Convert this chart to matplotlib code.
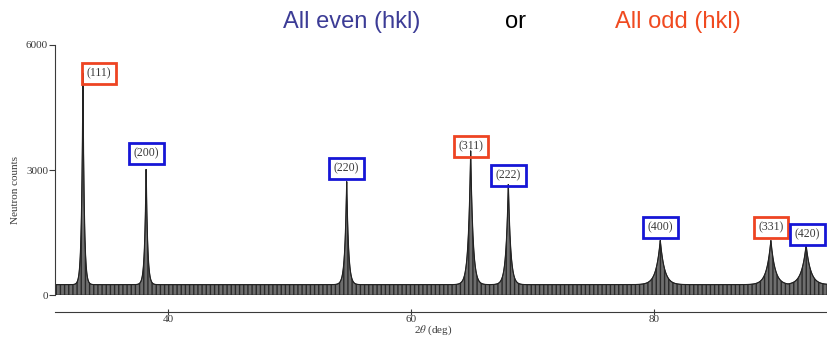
import numpy as np
import matplotlib
matplotlib.use("Agg")
import matplotlib.pyplot as plt


# -----------------------------
# Data
# -----------------------------
hkl_labels = ["(111)", "(200)", "(220)", "(311)", "(222)", "(400)", "(331)", "(420)"]

peak_two_theta = [33.0, 38.2, 54.7, 64.9, 68.0, 80.5, 89.6, 92.5]

peak_counts = [5350, 3120, 2760, 3480, 2690, 1320, 1320, 1200]

peak_width = [0.11, 0.12, 0.15, 0.19, 0.19, 0.34, 0.34, 0.37]

all_odd = [True, False, False, True, False, False, True, False]

background_counts = 250


# -----------------------------
# Style
# -----------------------------
red_box = "#ee4422"
blue_box = "#1616d6"
ink = "#3a3a3a"

# label offsets in points (dx, dy) from the peak top
label_offsets = [(11.5, -5.4), (0, 4), (0, 4), (0, -1.8), (0, 1.1), (0, 4.7), (0, 4.7), (0.7, 3.2)]

serif = ["Liberation Serif", "DejaVu Serif"]

plt.rcParams["mathtext.fontset"] = "stix"


# -----------------------------
# Profile
# -----------------------------
two_theta = np.linspace(30.7, 94.3, 6000)

counts = np.full_like(two_theta, background_counts, dtype=float)

for x0, h, w in zip(peak_two_theta, peak_counts, peak_width):
    counts = np.maximum(
        counts,
        background_counts + (h - background_counts) * np.exp(-np.abs(two_theta - x0) / w)
    )


# -----------------------------
# Plot
# -----------------------------
fig = plt.figure(figsize=(8.28, 3.38), dpi=100)

ax = fig.add_axes([0.0664, 0.127, 0.9336, 0.740])

ax.fill_between(
    two_theta, 0, counts,
    facecolor="#6e6e6e",
    edgecolor="#2a2a2a",
    hatch="||||",
    linewidth=0.6
)

ax.plot(two_theta, counts, color="#222222", linewidth=0.8)

for i, label in enumerate(hkl_labels):
    box_color = red_box if all_odd[i] else blue_box
    ax.annotate(
        label,
        xy=(peak_two_theta[i], peak_counts[i]),
        xytext=label_offsets[i],
        textcoords="offset points",
        ha="center",
        va="bottom",
        fontsize=8.5,
        family=serif,
        color=ink,
        bbox=dict(boxstyle="square,pad=0.4", facecolor="none",
                  edgecolor=box_color, linewidth=2.0)
    )

ax.set_xlim(30.7, 94.3)
ax.set_ylim(0, 6000)

ax.set_xticks([40, 60, 80])
ax.set_yticks([0, 3000, 6000])

ax.spines["top"].set_visible(False)
ax.spines["right"].set_visible(False)
ax.spines["bottom"].set_position(("outward", 12))
ax.spines["left"].set_color(ink)
ax.spines["bottom"].set_color(ink)
ax.spines["left"].set_linewidth(0.8)
ax.spines["bottom"].set_linewidth(0.8)

ax.tick_params(axis="y", direction="out", length=4, width=0.8,
               colors=ink, labelsize=8, pad=1)
ax.tick_params(axis="x", direction="inout", length=4, width=0.8,
               colors=ink, labelsize=8, pad=0)

for t in ax.get_xticklabels() + ax.get_yticklabels():
    t.set_family(serif)

ax.set_ylabel("Neutron counts", family=serif, fontsize=8, color=ink)
ax.yaxis.set_label_coords(-0.045, 0.42)

ax.set_xlabel(r"2$\theta$ (deg)", family=serif, fontsize=8, color=ink)
ax.xaxis.set_label_coords(0.489, -0.112)

fig.text(0.425, 0.935, "All even (hkl)", ha="center", va="center",
         fontsize=17, family="Liberation Sans", color="#3c3c96")
fig.text(0.622, 0.935, "or", ha="center", va="center",
         fontsize=17, family="Liberation Sans", color="black")
fig.text(0.819, 0.935, "All odd (hkl)", ha="center", va="center",
         fontsize=17, family="Liberation Sans", color="#f04a20")

fig.savefig("out.png", dpi=100)
plt.close(fig)
